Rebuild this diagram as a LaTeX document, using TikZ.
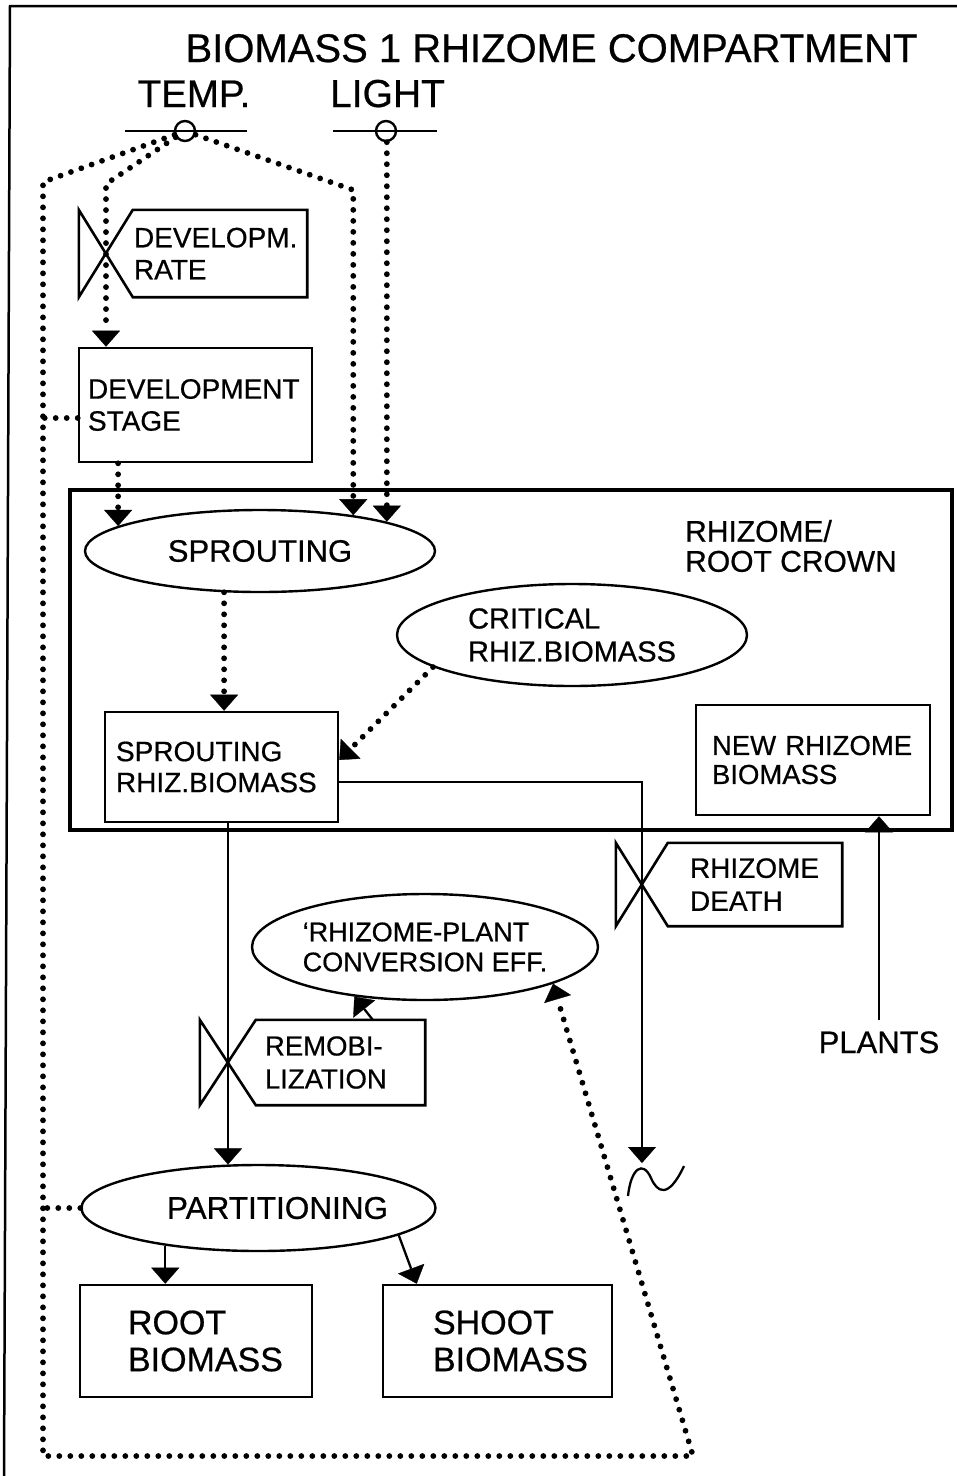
\documentclass[tikz,border=0pt]{standalone}
\usepackage{fontspec}
\setmainfont{Liberation Sans}[UprightFeatures={FakeBold=0.6}]
\usetikzlibrary{shapes.geometric,arrows.meta,calc}
\newcommand\fsz[2]{\fontsize{#1}{#2}\selectfont}
\begin{document}
\begin{tikzpicture}[x=1pt,y=-1pt,
  box/.style={draw, line width=2.6pt, inner ysep=0pt, align=left},
  vbox/.style={inner ysep=0pt, align=left},
  ell/.style={draw, ellipse, line width=2.4pt, inner sep=0pt},
  vline/.style={line width=2.6pt},
  flow/.style={line width=2.3pt},
  dots/.style={line width=5.8pt, dash pattern=on 0pt off 11pt, line cap=round},
  arr/.style={-{Triangle[width=28pt,length=16pt,line width=0.3pt]}}]
\useasboundingbox (0,0) rectangle (957,1476);
% outer frame
\draw[line width=2.5pt] (957,6) -- (10,6) -- (4,1476);
% rhizome / root crown compartment
\node[draw, line width=4.8pt, minimum width=882pt, minimum height=340pt, inner sep=0pt] (crown) at (511,660) {};
\node[font=\fsz{30}{30}, align=left, anchor=west, inner sep=0pt] (crownl) at (685,546) {RHIZOME/\\ROOT CROWN};
% titles
\node[font=\fsz{40}{44}, anchor=base] (title) at (551.5,62) {BIOMASS 1 RHIZOME COMPARTMENT};
\node[font=\fsz{38.5}{40}, anchor=base] (templ) at (194,107) {TEMP.};
\node[font=\fsz{39}{40}, anchor=base] (lightl) at (387.5,107) {LIGHT};
% driving variables
\draw[flow] (125,131) -- (247,131);
\draw[flow] (333,131) -- (437,131);
\node[circle, draw, line width=2.4pt, minimum size=20pt, inner sep=0pt] (tc) at (185,131) {};
\node[circle, draw, line width=2.4pt, minimum size=20pt, inner sep=0pt] (lc) at (386,131) {};
% boxes
\node[box, text width=215pt, inner xsep=9pt, minimum height=114pt, font=\fsz{28}{32}] (dev) at (195.5,405) {DEVELOPMENT\\STAGE};
\node[box, text width=211pt, inner xsep=11pt, minimum height=110pt, font=\fsz{28}{31}] (srb) at (221.5,767) {SPROUTING\\RHIZ.BIOMASS};
\node[box, text width=202pt, inner xsep=16pt, minimum height=110pt, font=\fsz{27.5}{29}] (nrb) at (813,760) {NEW RHIZOME\\BIOMASS};
\node[box, text width=136pt, inner xsep=48pt, minimum height=112pt, font=\fsz{34}{37}] (root) at (196,1341) {ROOT\\BIOMASS};
\node[box, text width=129pt, inner xsep=50pt, minimum height=112pt, font=\fsz{34}{37}] (shoot) at (497.5,1341) {SHOOT\\BIOMASS};
% ellipses
\node[ell, minimum width=350pt, minimum height=82pt, font=\fsz{31}{31}] (spr) at (260,551) {SPROUTING};
\node[ell, minimum width=350pt, minimum height=102pt, align=left, font=\fsz{29}{33}] (crit) at (572,635) {CRITICAL\\RHIZ.BIOMASS};
\node[ell, minimum width=346pt, minimum height=106pt, align=left, font=\fsz{27}{30}] (rp) at (425,947) {‘RHIZOME-PLANT\\CONVERSION EFF.};
\node[ell, minimum width=354pt, minimum height=86pt, font=\fsz{31.5}{31.5}] (part) at (258.5,1208) {\makebox[0pt]{\hspace{38pt}PARTITIONING}};
% valves
\node[vbox, text width=172pt, inner xsep=1pt, minimum height=87pt, font=\fsz{28}{32}] (drate) at (220,253.5) {DEVELOPM.\\RATE};
\coordinate (drx) at ([xshift=-27pt]drate.west);
\draw[vline] (drate.north west) -- (drate.north east) -- (drate.south east) -- (drate.south west) -- (drx) -- cycle;
\draw[vline] (drx) -- ($(drate.south west)!2!(drx)$) -- ($(drate.north west)!2!(drx)$) -- cycle;
\node[vbox, text width=130pt, inner xsep=22pt, minimum height=83pt, font=\fsz{28}{33}] (rdbox) at (755,884.5) {RHIZOME\\DEATH};
\coordinate (rdx) at ([xshift=-26pt]rdbox.west);
\draw[vline] (rdbox.north west) -- (rdbox.north east) -- (rdbox.south east) -- (rdbox.south west) -- (rdx) -- cycle;
\draw[vline] (rdx) -- ($(rdbox.south west)!2!(rdx)$) -- ($(rdbox.north west)!2!(rdx)$) -- cycle;
\node[vbox, text width=151pt, inner xsep=9pt, minimum height=85pt, font=\fsz{27.5}{33}] (rem) at (340.5,1062.5) {REMOBI-\\LIZATION};
\coordinate (remx) at ([xshift=-28pt]rem.west);
\draw[vline] (rem.north west) -- (rem.north east) -- (rem.south east) -- (rem.south west) -- (remx) -- cycle;
\draw[vline] (remx) -- ($(rem.south west)!2!(remx)$) -- ($(rem.north west)!2!(remx)$) -- cycle;
% plants source label
\node[font=\fsz{31}{31}, anchor=base, inner ysep=11pt] (plants) at (879,1053) {PLANTS};
% sink
\coordinate (sink) at (642,1163);
\draw[flow] (628,1196) .. controls (631,1168) and (643,1160) .. (651,1178) .. controls (657,1192) and (668,1200) .. (684,1166);
% information links (dotted)
\coordinate (ol1) at (43,182);
\coordinate (ol2) at (43,1456);
\coordinate (ol3) at (693,1456);
\coordinate (il1) at (106,184);
\draw[dots,arr] (tc) -- (ol1) -- (ol2) -- (ol3) -- (rp.-16);
\draw[dots,arr] (tc) -- (il1) -- (il1 |- dev.north);
\draw[dots,arr] (tc) -- (spr.21 |- 0,190) -- (spr.21);
\draw[dots,arr] (spr.13 |- lc.south) -- (spr.13);
\draw[dots] ([yshift=-13pt]dev.west) -- ([yshift=-13pt]dev.west -| ol1);
\draw[dots] (part.west) -- (part.west -| ol1);
\draw[dots,arr] (spr.170 |- dev.south) -- (spr.170);
\draw[dots,arr] (spr.229) -- (spr.229 |- srb.north);
\draw[dots,arr] (crit.193) -- ([yshift=7pt]srb.east);
% material flows
\draw[flow,arr] ([yshift=-15pt]srb.east) -| (sink);
\draw[flow,arr] (part.125 |- srb.south) -- (part.125);
\draw[flow,arr] (plants.north) -- (plants.north |- nrb.south);
\draw[flow,arr] ([xshift=117pt]rem.north west) -- (rp.215);
\draw[flow,arr] (part.202) -- (part.202 |- root.north);
\draw[flow,arr] (part.-11) -- ([xshift=35pt]shoot.north west);
\end{tikzpicture}
\end{document}
